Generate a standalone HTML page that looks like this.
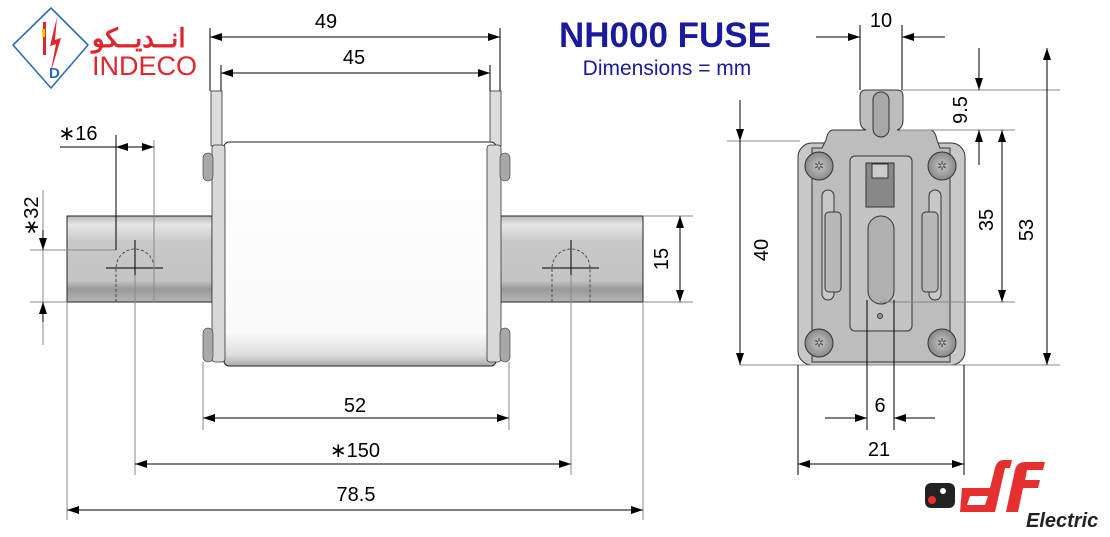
<!DOCTYPE html>
<html><head><meta charset="utf-8"><style>
html,body{margin:0;padding:0;background:#fff;}
svg{display:block;}
text{font-family:"Liberation Sans",sans-serif;}
</style></head><body>
<svg width="1110" height="537" viewBox="0 0 1110 537" xmlns="http://www.w3.org/2000/svg">
<defs>
<marker id="a" viewBox="0 0 12 8" refX="12" refY="4" markerWidth="12" markerHeight="8" orient="auto-start-reverse" markerUnits="userSpaceOnUse"><path d="M0,0 L12,4 L0,8z" fill="#000"/></marker>
<linearGradient id="bl" x1="0" y1="0" x2="0" y2="1">
<stop offset="0" stop-color="#b8b8b8"/><stop offset="0.1" stop-color="#e6e6e6"/><stop offset="0.3" stop-color="#c8c8c8"/><stop offset="0.75" stop-color="#c4c4c4"/><stop offset="0.85" stop-color="#999"/><stop offset="1" stop-color="#b5b5b5"/></linearGradient>
<linearGradient id="bd" x1="0" y1="0" x2="0" y2="1">
<stop offset="0" stop-color="#fff"/><stop offset="0.85" stop-color="#fafafa"/><stop offset="0.95" stop-color="#ddd"/><stop offset="1" stop-color="#aaa"/></linearGradient>
<radialGradient id="sc"><stop offset="0" stop-color="#c8c8c8"/><stop offset="1" stop-color="#888"/></radialGradient>
</defs>

<!-- INDECO logo -->
<path d="M51,8 L88,45 L51,88 L13,45 Z" fill="none" stroke="#2a6fb5" stroke-width="1.6" stroke-linejoin="round"/>
<path d="M43,22 L43,55 L46,55 L46,22Z" fill="#e0262c"/>
<rect x="42" y="29" width="3" height="8" fill="#f0d000"/>
<path d="M57,17 L50,46 L56,44 L50,75 L61,38 L55,40 Z" fill="#e0262c"/>
<text x="49" y="78" font-size="15" font-weight="bold" fill="#2a6fb5">D</text>
<text x="92" y="47" font-size="26" font-weight="bold" fill="#e0262c" font-family="'Liberation Sans','Noto Sans CJK SC',sans-serif">انــديــكو</text>
<text x="92" y="75" font-size="27" fill="#e0262c">INDECO</text>

<!-- title -->
<text x="665" y="47" font-size="35" font-weight="bold" fill="#1a1a9e" text-anchor="middle">NH000 FUSE</text>
<text x="667" y="75" font-size="21" fill="#1a1a9e" text-anchor="middle">Dimensions = mm</text>

<!-- blades -->
<rect x="67" y="216" width="145" height="86" fill="url(#bl)" stroke="#222" stroke-width="1"/>
<rect x="500" y="216" width="143" height="86" fill="url(#bl)" stroke="#222" stroke-width="1"/>
<!-- tabs -->
<rect x="211" y="91" width="11" height="55" fill="#ddd" stroke="#333" stroke-width="0.8"/>
<rect x="490" y="91" width="11" height="55" fill="#ddd" stroke="#333" stroke-width="0.8"/>
<!-- body -->
<rect x="224" y="142" width="272" height="224" rx="5" fill="url(#bd)" stroke="#222" stroke-width="1"/>
<rect x="212" y="145" width="13" height="217" rx="3" fill="#d8d8d8" stroke="#333" stroke-width="0.8"/>
<rect x="487" y="145" width="14" height="217" rx="3" fill="#d8d8d8" stroke="#333" stroke-width="0.8"/>
<rect x="203" y="153" width="10" height="28" rx="5" fill="#a8a8a8" stroke="#333" stroke-width="0.6"/>
<rect x="203" y="328" width="10" height="34" rx="5" fill="#a8a8a8" stroke="#333" stroke-width="0.6"/>
<rect x="500" y="153" width="10" height="28" rx="5" fill="#a8a8a8" stroke="#333" stroke-width="0.6"/>
<rect x="500" y="328" width="10" height="34" rx="5" fill="#a8a8a8" stroke="#333" stroke-width="0.6"/>

<!-- holes -->
<g stroke="#333" stroke-width="0.8" fill="none" stroke-dasharray="3,2">
<path d="M116,302 V268 A19,19 0 0 1 154,268 V302"/>
<path d="M552,302 V268 A19,19 0 0 1 590,268 V302"/>
</g>
<g stroke="#000" stroke-width="1">
<path d="M106,268 H163 M135,240 V275"/>
<path d="M542,268 H599 M571,240 V275"/>
</g>

<!-- extension lines -->
<g stroke="#888" stroke-width="1" fill="none">
<path d="M67,302 V520 M135,275 V475 M203,362 V430 M509,362 V430 M571,275 V475 M643,302 V520"/>
<path d="M30,250 H116 M30,302 H67 M643,216 H693 M643,302 H693 M43,190 V345"/>
<path d="M154,140 V302"/>
</g>
<g stroke="#000" stroke-width="1" fill="none">
<path d="M210,28 V91 M500,28 V91 M221,65 V91 M490,65 V91 M116,135 V250"/>
</g>

<!-- dimension lines -->
<g stroke="#000" stroke-width="1" fill="none">
<path d="M210,37 H500" marker-start="url(#a)" marker-end="url(#a)"/>
<path d="M221,73 H490" marker-start="url(#a)" marker-end="url(#a)"/>
<path d="M203,418 H509" marker-start="url(#a)" marker-end="url(#a)"/>
<path d="M135,464 H571" marker-start="url(#a)" marker-end="url(#a)"/>
<path d="M67,510 H643" marker-start="url(#a)" marker-end="url(#a)"/>
<path d="M60,147 H116"/>
<path d="M135,147 H116" marker-end="url(#a)"/>
<path d="M135,147 H154" marker-end="url(#a)"/>
<path d="M43,230 V250" marker-end="url(#a)"/>
<path d="M43,322 V302" marker-end="url(#a)"/>
<path d="M680,216 V302" marker-start="url(#a)" marker-end="url(#a)"/>
</g>
<g font-size="20" fill="#000" text-anchor="middle">
<text x="326" y="28">49</text>
<text x="354" y="64">45</text>
<text x="355" y="412">52</text>
<text x="355" y="457">∗150</text>
<text x="356" y="501">78.5</text>
<text x="78" y="140">∗16</text>
<text transform="translate(38,216) rotate(-90)">∗32</text>
<text transform="translate(668,259) rotate(-90)">15</text>
</g>

<!-- right view -->
<g stroke="#333" stroke-width="1">
<rect x="798" y="143" width="167" height="222" rx="14" fill="#c8c8c8"/>
<path d="M860,96 Q860,90 866,90 H897 Q903,90 903,96 V120 Q903,128 897,130 H930 Q935,130 937,140 L940,148 H950 V362 H812 V148 H822 L826,140 Q828,130 833,130 H866 Q860,128 860,120 Z" fill="#bdbdbd"/>
<rect x="873" y="92" width="16" height="45" rx="8" fill="#a8a8a8"/>
<rect x="850" y="156" width="62" height="175" rx="5" fill="#c4c4c4"/>
<rect x="866" y="163" width="28" height="44" fill="#888"/>
<rect x="872" y="164" width="16" height="14" fill="#ccc"/>
<rect x="868" y="216" width="26" height="88" rx="13" fill="#b0b0b0"/>
<rect x="822" y="190" width="12" height="110" rx="6" fill="#c8c8c8"/>
<rect x="929" y="190" width="12" height="110" rx="6" fill="#c8c8c8"/>
<rect x="825" y="212" width="16" height="80" rx="4" fill="#b8b8b8"/>
<rect x="922" y="212" width="16" height="80" rx="4" fill="#b8b8b8"/>
<circle cx="880" cy="316" r="2.5" fill="#999"/>
<circle cx="819" cy="166" r="14" fill="url(#sc)"/>
<circle cx="942" cy="166" r="14" fill="url(#sc)"/>
<circle cx="819" cy="343" r="14" fill="url(#sc)"/>
<circle cx="942" cy="343" r="14" fill="url(#sc)"/>
</g>
<g font-size="12" fill="#555" text-anchor="middle"><text x="819" y="170">✲</text><text x="942" y="170">✲</text><text x="819" y="347">✲</text><text x="942" y="347">✲</text></g>

<g stroke="#888" stroke-width="1" fill="none">
<path d="M903,90 H1060 M900,130 H1015 M880,302 H1015 M727,141 H800 M740,365 H1060"/>
</g>
<g stroke="#000" stroke-width="1" fill="none">
<path d="M860,25 V90 M902,25 V90 M798,365 V475 M964,365 V475 M867,300 V430 M894,300 V430"/>
<path d="M816,37 H860" marker-end="url(#a)"/>
<path d="M945,37 H902" marker-end="url(#a)"/>
<path d="M979,48 V90" marker-end="url(#a)"/>
<path d="M979,165 V130" marker-end="url(#a)"/>
<path d="M1002,130 V302" marker-start="url(#a)" marker-end="url(#a)"/>
<path d="M1047,48 V365" marker-start="url(#a)" marker-end="url(#a)"/>
<path d="M740,100 V141" marker-end="url(#a)"/>
<path d="M740,365 V141" marker-start="url(#a)"/>
<path d="M825,418 H867" marker-end="url(#a)"/>
<path d="M935,418 H894" marker-end="url(#a)"/>
<path d="M798,464 H964" marker-start="url(#a)" marker-end="url(#a)"/>
</g>
<g font-size="20" fill="#000" text-anchor="middle">
<text x="881" y="27">10</text>
<text x="880" y="412">6</text>
<text x="879" y="456">21</text>
<text transform="translate(967,110) rotate(-90)">9.5</text>
<text transform="translate(993,220) rotate(-90)">35</text>
<text transform="translate(1033,230) rotate(-90)">53</text>
<text transform="translate(768,250) rotate(-90)">40</text>
</g>

<!-- df Electric logo -->
<rect x="925" y="483" width="30" height="25" rx="6" fill="#222"/>
<circle cx="932" cy="500" r="4" fill="#e63030"/>
<circle cx="943" cy="491" r="3" fill="#fff"/>
<path d="M962,488 H990 L995,468 Q997,460 1004,460 H1012 L1010,468 H1005 L995,512 H960 Z M970,496 L967,505 H985 L988,496 Z" fill="#e63030"/>
<path d="M1006,512 L1015,470 Q1017,462 1025,462 H1045 L1043,470 H1027 L1025,480 H1040 L1038,488 H1023 L1018,512 Z" fill="#e63030"/>
<text x="1026" y="527" font-size="20" font-weight="bold" font-style="italic" fill="#222">Electric</text>
</svg>
</body></html>
